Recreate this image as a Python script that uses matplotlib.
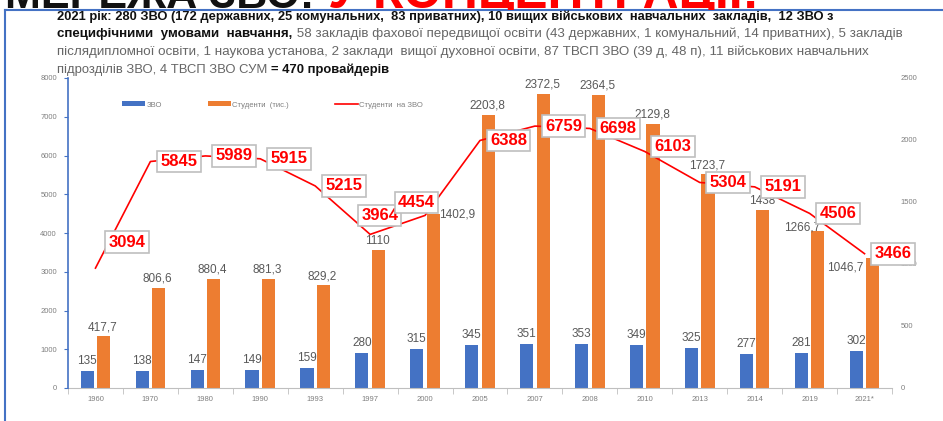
import matplotlib
matplotlib.use("Agg")
import matplotlib.pyplot as plt
from matplotlib.lines import Line2D
from matplotlib.transforms import Bbox, TransformedBbox

plt.rcParams["font.family"] = ["Liberation Sans", "DejaVu Sans"]

years = ["1960", "1970", "1980", "1990", "1993", "1997", "2000", "2005",
         "2007", "2008", "2010", "2013", "2014", "2019", "2021*"]
zvo = [135, 138, 147, 149, 159, 280, 315, 345, 351, 353, 349, 325, 277, 281, 302]
students = [417.7, 806.6, 880.4, 881.3, 829.2, 1110, 1402.9, 2203.8, 2372.5,
            2364.5, 2129.8, 1723.7, 1438, 1266.7, 1046.7]
per_zvo = [3094, 5845, 5989, 5915, 5215, 3964, 4454, 6388, 6759, 6698,
           6103, 5304, 5191, 4506, 3466]

legend_labels = ["ЗВО", "Студенти  (тис.)", "Студенти  на ЗВО"]

header_lines = [
    [("2021 рік: 280 ЗВО (172 державних, 25 комунальних,  83 приватних), 10 вищих військових  навчальних  закладів,  12 ЗВО з", "bold", "#111111")],
    [("специфічними  умовами  навчання,", "bold", "#111111"),
     (" 58 закладів фахової передвищої освіти (43 державних, 1 комунальний, 14 приватних), 5 закладів", "normal", "#666666")],
    [("післядипломної освіти, 1 наукова установа, 2 заклади  вищої духовної освіти, 87 ТВСП ЗВО (39 д, 48 п), 11 військових навчальних", "normal", "#666666")],
    [("підрозділів ЗВО, 4 ТВСП ЗВО СУМ ", "normal", "#666666"),
     ("= 470 провайдерів", "bold", "#111111")],
]
title_parts = [("МЕРЕЖА ЗВО:", "#111111"), ("У КОНЦЕНТРАЦІЇ!", "#FF0000")]

blue = "#4472C4"
orange = "#ED7D31"
red = "#FF0000"
gray = "#7F7F7F"
label_gray = "#595959"

W, H = 943, 421
fig = plt.figure(figsize=(W / 100, H / 100), dpi=100)
renderer = fig.canvas.get_renderer()


def fit_parts(parts, x0, x1, y, va="center"):
    texts = [fig.text(0, 0, s, fontsize=10, fontweight=w, color=c, va=va)
             for s, w, c in parts]
    widths = [t.get_window_extent(renderer).width for t in texts]
    scale = (x1 - x0) / sum(widths)
    x = x0
    for t, w in zip(texts, widths):
        t.set_fontsize(10 * scale)
        t.set_position((x / W, 1 - y / H))
        x += w * scale
    return texts


# cropped big title at the very top, only its lower edge shows
top_clip = TransformedBbox(Bbox([[0, 1 - 10 / H], [1, 1]]), fig.transFigure)
title_texts = fit_parts([(title_parts[0][0], "bold", title_parts[0][1])], 5, 315, 8, va="baseline")
title_texts += fit_parts([(title_parts[1][0], "bold", title_parts[1][1])], 328, 757, 8, va="baseline")
for t in title_texts:
    t.set_clip_box(top_clip)
    t.set_clip_on(True)

# frame lines
fig.add_artist(Line2D([5 / W, 1], [1 - 10 / H, 1 - 10 / H], color=blue, lw=1.5))
fig.add_artist(Line2D([5 / W, 5 / W], [0, 1 - 10 / H], color=blue, lw=1.5))

header_pos = [(57, 832, 17), (57, 902, 34), (57, 870, 52), (57, 390, 70)]
for parts, (x0, x1, y) in zip(header_lines, header_pos):
    fit_parts(parts, x0, x1, y)

ax = fig.add_axes([68 / W, 33 / H, 824 / W, 310 / H])
ax2 = ax.twinx()

x = list(range(len(years)))
off, bw = 0.15, 0.24
b1 = ax.bar([i - off for i in x], zvo, bw, color=blue, label=legend_labels[0])
b2 = ax.bar([i + off for i in x], students, bw, color=orange, label=legend_labels[1])
ln, = ax2.plot(x, per_zvo, color=red, lw=1.2, label=legend_labels[2])

ax.set_xlim(-0.5, len(years) - 0.5)
ax.set_ylim(0, 2500)
ax2.set_ylim(0, 8000)


def fmt(v):
    if float(v).is_integer():
        return str(int(v))
    return f"{v:.1f}".replace(".", ",")


for i, v in enumerate(zvo):
    ax.annotate(fmt(v), (i - off, v), xytext=(0, 10), textcoords="offset pixels",
                ha="center", va="center", fontsize=8.5, color=label_gray)

student_offsets = {6: (24, 0), 13: (-16, 3), 14: (-28, -9)}
for i, v in enumerate(students):
    dx, dy = student_offsets.get(i, (-1, 9))
    ax.annotate(fmt(v), (i + off, v), xytext=(dx, dy), textcoords="offset pixels",
                ha="center", va="center", fontsize=8.5, color=label_gray)

line_offsets = {0: (13, 26), 5: (-9, 19), 6: (-27, 13), 10: (10, 5)}
for i, v in enumerate(per_zvo):
    dx, dy = line_offsets.get(i, (10, 0))
    ax2.annotate(str(v), (i, v), xytext=(dx, dy), textcoords="offset pixels",
                 ha="left", va="center", fontsize=12, fontweight="bold", color=red,
                 bbox=dict(boxstyle="square,pad=0.2", fc="white", ec="#BFBFBF", lw=1.2),
                 zorder=5)

# axes styling
for s in ax.spines.values():
    s.set_visible(False)
for s in ax2.spines.values():
    s.set_visible(False)
ax.spines["bottom"].set_visible(True)
ax.spines["bottom"].set_color("#BFBFBF")
ax2.spines["left"].set_visible(True)
ax2.spines["left"].set_color(blue)
ax2.spines["left"].set_linewidth(1.2)

ax.yaxis.tick_right()
ax2.yaxis.tick_left()
ax.set_yticks(range(0, 2501, 500))
ax2.set_yticks(range(0, 8001, 1000))
ax.tick_params(axis="y", length=0, pad=6, labelsize=5.5, labelcolor=gray)
ax2.tick_params(axis="y", length=3, pad=5, color=blue, labelsize=5.5, labelcolor=gray)

ax.set_xticks(x)
ax.set_xticklabels(years)
ax.set_xticks([i - 0.5 for i in range(len(years) + 1)], minor=True)
ax.tick_params(axis="x", which="major", length=0, pad=6, labelsize=5.5, labelcolor=gray)
ax.tick_params(axis="x", which="minor", length=4, color="#BFBFBF")

ax.legend(handles=[b1, b2, ln], loc="center left", bbox_to_anchor=(0.0655, 0.913),
          ncol=3, frameon=False, fontsize=5.5, labelcolor=gray, borderpad=0,
          borderaxespad=0, handlelength=3, handleheight=0.6, handletextpad=0.2,
          columnspacing=6)

fig.savefig("out.png", dpi=100)
